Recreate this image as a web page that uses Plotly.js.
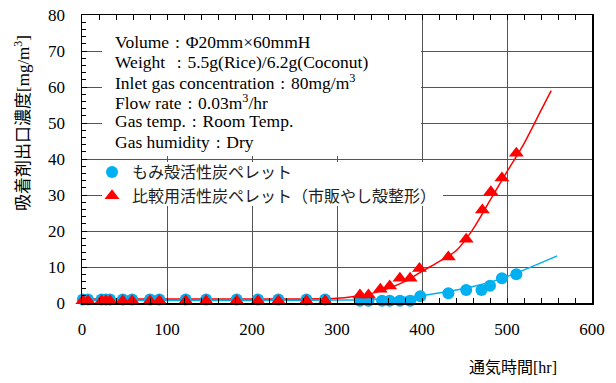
<!DOCTYPE html>
<html>
<head>
<meta charset="utf-8">
<script src="https://cdn.plot.ly/plotly-3.0.1.min.js"></script>
<style>html,body{margin:0;padding:0;background:#fff;}#chart{width:616px;height:383px;}</style>
</head>
<body>
<div id="chart"></div>
<script>
// ---- data ----
const seriesNames = ["もみ殻活性炭ペレット", "比較用活性炭ペレット（市販やし殻整形）"];

const riceX = [1, 7, 23, 28, 33, 48, 59, 80, 91, 122, 146, 182, 207, 231, 264, 286,
               327, 337, 353, 362, 374, 386, 398, 431, 452, 470, 480, 494, 511];
const riceY = [1.0, 1.0, 1.0, 1.0, 1.0, 1.0, 1.0, 1.0, 1.0, 1.0, 1.0, 1.0, 1.0, 1.0, 1.0, 1.0,
               0.6, 0.6, 0.6, 0.6, 0.6, 0.6, 1.9, 2.7, 3.6, 3.6, 4.8, 6.9, 8.0];

const cocoX = [1, 7, 23, 28, 33, 48, 59, 80, 91, 122, 146, 182, 207, 231, 264, 286,
               327, 337, 351, 362, 374, 386, 397, 431, 452, 471, 481, 494, 511];
const cocoY = [0.6, 0.6, 0.6, 0.6, 0.6, 0.6, 0.6, 0.6, 0.6, 0.6, 0.6, 0.6, 0.6, 0.6, 0.6, 0.6,
               2.2, 2.2, 3.8, 4.7, 6.9, 6.9, 9.6, 12.8, 17.7, 25.8, 30.9, 34.7, 41.6];

// fitted trend curves
const riceFitX = [0, 100, 200, 300, 340, 370, 400, 430, 460, 490, 520, 559];
const riceFitY = [0.7, 0.7, 0.7, 0.8, 1.0, 1.4, 2.1, 3.2, 4.6, 6.5, 9.2, 13.1];
const cocoFitX = [0, 100, 200, 300, 320, 340, 360, 380, 400, 420, 440, 460, 480, 500, 520, 540, 552];
const cocoFitY = [1.1, 1.1, 1.1, 1.3, 1.8, 2.6, 4.0, 6.0, 8.8, 11.5, 14.5, 20.5, 28.5, 36.5, 44.3, 53.5, 59];

const xTickVals = [0, 100, 200, 300, 400, 500, 600];
const yTickVals = [0, 10, 20, 30, 40, 50, 60, 70, 80];

const SEP = "\u2004:\u2004";
const infoLines = [
  "Volume" + SEP + "Φ20mm×60mmH",
  "Weight\u2004" + SEP + "5.5g(Rice)/6.2g(Coconut)",
  "Inlet gas concentration" + SEP + "80mg/m<sup>3</sup>",
  "Flow rate" + SEP + "0.03m<sup>3</sup>/hr",
  "Gas temp." + SEP + "Room Temp.",
  "Gas humidity" + SEP + "Dry"
];
const xTitle = "通気時間[hr]";
const yTitle = "吸着剤出口濃度[mg/m<sup>3</sup>]";

// ---- styling ----
const BLUE = "#00B0F0", RED = "#FF0000";
const SERIF = "Liberation Serif, Noto Sans CJK JP, serif";
const CJK = "Noto Sans CJK JP, sans-serif";

const traces = [
  {x: riceFitX, y: riceFitY, mode: "lines", line: {color: BLUE, width: 1.5, shape: "spline"}, showlegend: false, hoverinfo: "skip", cliponaxis: false},
  {x: cocoFitX, y: cocoFitY, mode: "lines", line: {color: RED, width: 1.5, shape: "spline"}, showlegend: false, hoverinfo: "skip", cliponaxis: false},
  {x: riceX, y: riceY, mode: "markers", name: seriesNames[0], marker: {symbol: "circle", size: 12, color: BLUE}, cliponaxis: false},
  {x: cocoX, y: cocoY, mode: "markers", name: seriesNames[1], marker: {symbol: "triangle-up", size: 13, color: RED}, cliponaxis: false}
];

// plot area: x 82..592, y 15..303 px
const L = 82, T = 15, W = 510, H = 288;
const X0 = 0, X1 = 600, Y0 = 0, Y1 = 80;
const px2x = p => (p - L) / W;
const px2y = p => (T + H - p) / H;
const px2dx = p => X0 + (p - L) / W * (X1 - X0);
const px2dy = p => Y0 + (T + H - p) / H * (Y1 - Y0);

const annotations = infoLines.map((t, i) => ({
  xref: "paper", yref: "paper", x: px2x(113), y: px2y([42, 61.5, 81.5, 101.5, 121.5, 141.5][i]),
  xanchor: "left", yanchor: "middle", showarrow: false, text: t,
  font: {family: SERIF, size: 17.5, color: "#000"}
}));
annotations.push({
  xref: "paper", yref: "paper", x: px2x(22), y: px2y(123), textangle: -90,
  xanchor: "center", yanchor: "middle", showarrow: false, text: yTitle,
  font: {family: SERIF, size: 17, color: "#000"}
});
annotations.push({
  xref: "paper", yref: "paper", x: px2x(513), y: px2y(367),
  xanchor: "center", yanchor: "middle", showarrow: false, text: xTitle,
  font: {family: SERIF, size: 16, color: "#000"}
});

const layout = {
  width: 616, height: 383,
  margin: {l: L, r: 616 - L - W, t: T, b: 383 - T - H, pad: 0},
  paper_bgcolor: "#fff", plot_bgcolor: "#fff",
  showlegend: true,
  legend: {
    x: px2x(92), y: px2y(155), xanchor: "left", yanchor: "top",
    bgcolor: "rgba(0,0,0,0)", borderwidth: 0, tracegroupgap: 0,
    font: {family: CJK, size: 16, color: "#222"}, itemwidth: 30
  },
  xaxis: {
    range: [X0, X1], tickvals: xTickVals, ticks: "inside", ticklen: 5, tickcolor: "#000",
    showgrid: true, gridcolor: "#555", gridwidth: 1,
    showline: true, linecolor: "#000", linewidth: 1.5, mirror: "ticks",
    zeroline: false, ticklabelstandoff: 10,
    tickfont: {family: SERIF, size: 17, color: "#000"},
    minor: {dtick: 20, ticks: "inside", ticklen: 5, tickcolor: "#000", showgrid: false}
  },
  yaxis: {
    range: [Y0, Y1], tickvals: yTickVals, ticks: "inside", ticklen: 5, tickcolor: "#000",
    showgrid: true, gridcolor: "#555", gridwidth: 1,
    showline: true, linecolor: "#000", linewidth: 1.5, mirror: true,
    zeroline: false, ticklabelstandoff: 12,
    tickfont: {family: SERIF, size: 17, color: "#000"},
    minor: {dtick: 2, ticks: "inside", ticklen: 4, tickcolor: "#000", showgrid: false}
  },
  shapes: [
    {type: "rect", xref: "x", yref: "y", layer: "between",
     x0: px2dx(102), x1: px2dx(421), y0: px2dy(156), y1: px2dy(18),
     fillcolor: "#fff", line: {width: 0}},
    {type: "rect", xref: "x", yref: "y", layer: "between",
     x0: px2dx(102), x1: px2dx(443), y0: px2dy(206), y1: px2dy(162),
     fillcolor: "#fff", line: {width: 0}}
  ],
  annotations: annotations
};

Plotly.newPlot("chart", traces, layout, {staticPlot: true, displayModeBar: false});
</script>
</body>
</html>
